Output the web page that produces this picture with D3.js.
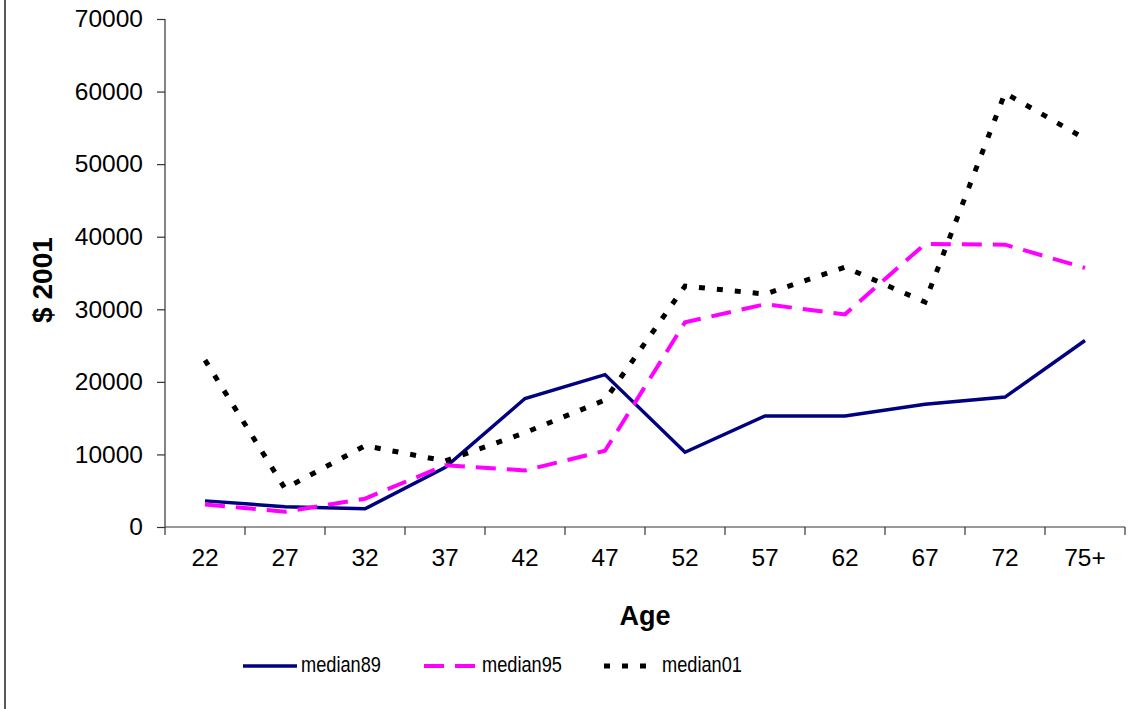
<!DOCTYPE html>
<html>
<head>
<meta charset="utf-8">
<script src="https://cdn.jsdelivr.net/npm/d3@7"></script>
<style>
  body { margin: 0; background: #fff; }
  svg { display: block; font-family: "Liberation Sans", Arial, sans-serif; }
</style>
</head>
<body>
<div id="chart"></div>
<script>
// data
const ages = ["22", "27", "32", "37", "42", "47", "52", "57", "62", "67", "72", "75+"];
const median89 = [3600, 2800, 2500, 8200, 17700, 21000, 10300, 15300, 15300, 16900, 17900, 25700];
const median95 = [3100, 2100, 3900, 8500, 7800, 10500, 28200, 30700, 29300, 39000, 38900, 35700];
const median01 = [23000, 5300, 11200, 9100, 13000, 17500, 33200, 32100, 35800, 31000, 59800, 53500];
const yTicks = [0, 10000, 20000, 30000, 40000, 50000, 60000, 70000];

const series = [
    {name: "median89", values: median89, color: "#000080", width: 3.5, dash: null},
    {name: "median95", values: median95, color: "#ff00ff", width: 4, dash: "20,11"},
    {name: "median01", values: median01, color: "#000000", width: 5, dash: "6,12"}
];

const W = 1135, H = 709;
const margin = {left: 165, right: 1125, top: 19, bottom: 527};

const svg = d3.select("#chart").append("svg")
    .attr("width", W)
    .attr("height", H);

// chart border (only the left edge is visible in the crop)
svg.append("rect")
    .attr("x", 5).attr("y", -10)
    .attr("width", W + 20).attr("height", H + 20)
    .attr("fill", "none")
    .attr("stroke", "#222")
    .attr("stroke-width", 1.5);

let x = d3.scaleBand()
    .domain(ages)
    .range([margin.left, margin.right]);

let y = d3.scaleLinear()
    .domain([0, 70000])
    .range([margin.bottom, margin.top]);

// y axis
let yAxis = svg.append("g")
    .attr("transform", "translate(" + margin.left + ",0)")
    .call(d3.axisLeft(y).tickValues(yTicks).tickSize(8).tickPadding(14).tickFormat(d3.format("d")));
yAxis.selectAll("path, line").attr("stroke", "#333").attr("stroke-width", 1.2);
yAxis.select(".domain").attr("d", "M0," + margin.top + "V" + margin.bottom);
yAxis.selectAll("text")
    .style("font-size", "24.5px")
    .attr("fill", "#000");

// x axis: labels in the middle of each band, ticks on band edges
let xAxis = svg.append("g")
    .attr("transform", "translate(0," + margin.bottom + ")")
    .call(d3.axisBottom(x).tickSize(0).tickPadding(22));
xAxis.select(".domain").attr("stroke", "#333").attr("stroke-width", 1.2)
    .attr("d", "M" + margin.left + ",0H" + margin.right);
xAxis.selectAll("text")
    .style("font-size", "24.5px")
    .attr("fill", "#000");
xAxis.selectAll(".edge")
    .data(ages.map(d => x(d)).concat([margin.right]))
    .enter().append("line")
    .attr("class", "edge")
    .attr("x1", d => d).attr("x2", d => d)
    .attr("y1", 0).attr("y2", 8)
    .attr("stroke", "#333")
    .attr("stroke-width", 1.2);

// axis titles
svg.append("text")
    .attr("x", (margin.left + margin.right) / 2)
    .attr("y", 625)
    .attr("text-anchor", "middle")
    .style("font-size", "27px")
    .style("font-weight", "bold")
    .text("Age");

let yTitle = svg.append("text")
    .attr("transform", "translate(52,280) rotate(-90)")
    .attr("text-anchor", "middle")
    .style("font-size", "28px")
    .style("font-weight", "bold")
    .text("$ 2001");
let yw = yTitle.node().getComputedTextLength();
yTitle.attr("transform", "translate(52,280) rotate(-90) scale(" + (86 / yw) + ",1)");

// lines
let line = d3.line()
    .x((d, i) => x(ages[i]) + x.bandwidth() / 2)
    .y(d => y(d))
    .curve(d3.curveLinear);

series.forEach(s => {
    svg.append("path")
        .datum(s.values)
        .attr("fill", "none")
        .attr("stroke", s.color)
        .attr("stroke-width", s.width)
        .attr("stroke-dasharray", s.dash)
        .attr("stroke-linejoin", "miter")
        .attr("d", line);
});

// legend (text is narrow in the original, so squeeze it horizontally)
const legendX = [243, 424, 604];
const legendY = 666;
series.forEach((s, i) => {
    svg.append("line")
        .attr("x1", legendX[i]).attr("x2", legendX[i] + 54)
        .attr("y1", legendY).attr("y2", legendY)
        .attr("stroke", s.color)
        .attr("stroke-width", s.width)
        .attr("stroke-dasharray", s.dash);
    let g = svg.append("g")
        .attr("transform", "translate(" + (legendX[i] + 58) + "," + (legendY + 6) + ")");
    let t = g.append("text")
        .style("font-size", "21.5px")
        .text(s.name);
    let w = t.node().getComputedTextLength();
    t.attr("transform", "scale(" + (80 / w) + ",1)");
});
</script>
</body>
</html>
